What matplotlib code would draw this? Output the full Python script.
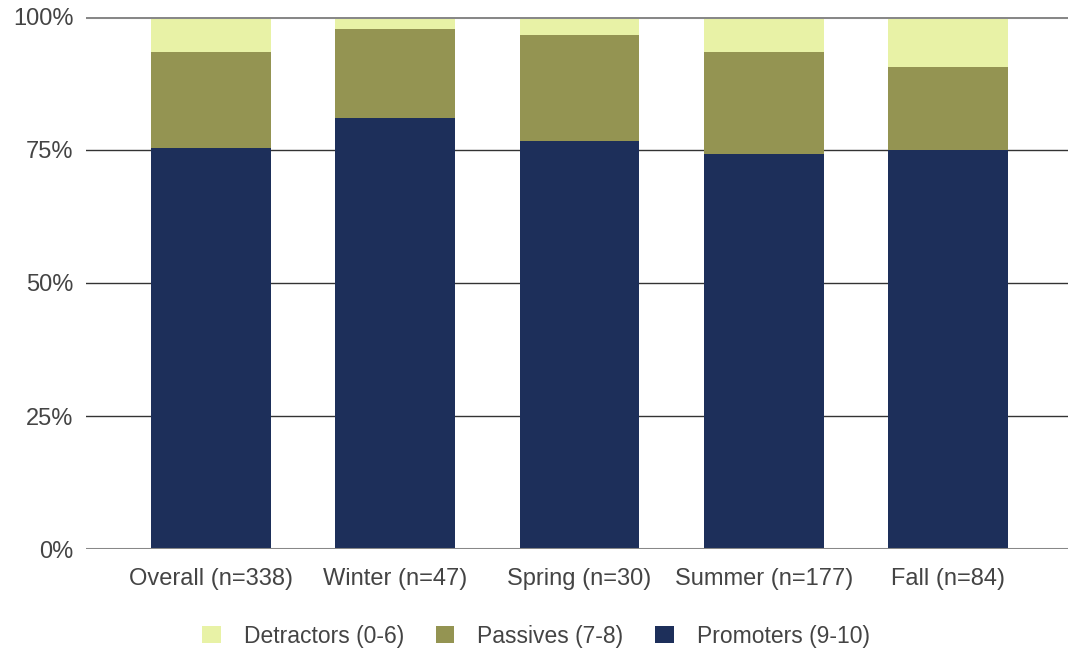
import matplotlib.pyplot as plt
import numpy as np
from matplotlib.ticker import FuncFormatter

plt.rcParams['font.family'] = ['Liberation Sans', 'DejaVu Sans']

categories = ['Overall (n=338)', 'Winter (n=47)', 'Spring (n=30)',
              'Summer (n=177)', 'Fall (n=84)']
promoters = [75.4, 81.0, 76.7, 74.2, 75.0]
passives = [18.0, 16.7, 19.9, 19.2, 15.6]
detractors = [6.6, 2.3, 3.4, 6.6, 9.4]

c_det = '#e8f2a6'
c_pas = '#949452'
c_pro = '#1d2f5a'

fig = plt.figure(figsize=(10.72, 6.49), dpi=100)
ax = fig.add_axes([0.080, 0.154, 0.916, 0.820])

x = np.arange(len(categories))
w = 0.65
ax.bar(x, promoters, w, color=c_pro, label='Promoters (9-10)', zorder=2)
ax.bar(x, passives, w, bottom=promoters, color=c_pas, label='Passives (7-8)', zorder=2)
bot = np.array(promoters) + np.array(passives)
ax.bar(x, detractors, w, bottom=bot, color=c_det, label='Detractors (0-6)', zorder=2)

for v in [25, 50, 75]:
    ax.axhline(v, color='#333333', lw=1.0, zorder=1)
for v in [0, 100]:
    ax.axhline(v, color='#888888', lw=2.2, zorder=3)

ax.set_xlim(-0.68, 4.65)
ax.set_ylim(0, 100)
ax.set_yticks([0, 25, 50, 75, 100])
ax.yaxis.set_major_formatter(FuncFormatter(lambda v, p: '%d%%' % v))
ax.set_xticks(x)
ax.set_xticklabels(categories)
ax.tick_params(length=0, labelsize=17, colors='#444444')
ax.tick_params(axis='y', pad=9)
ax.tick_params(axis='x', pad=14)
for s in ax.spines.values():
    s.set_visible(False)

h, l = ax.get_legend_handles_labels()
fig.legend(h[::-1], l[::-1], loc='center', bbox_to_anchor=(0.50, 0.02),
           ncol=3, frameon=False, fontsize=16.5, handlelength=0.8,
           handleheight=0.8, handletextpad=1.0, columnspacing=1.4,
           labelcolor='#444444')

fig.savefig('out.png', dpi=100)
